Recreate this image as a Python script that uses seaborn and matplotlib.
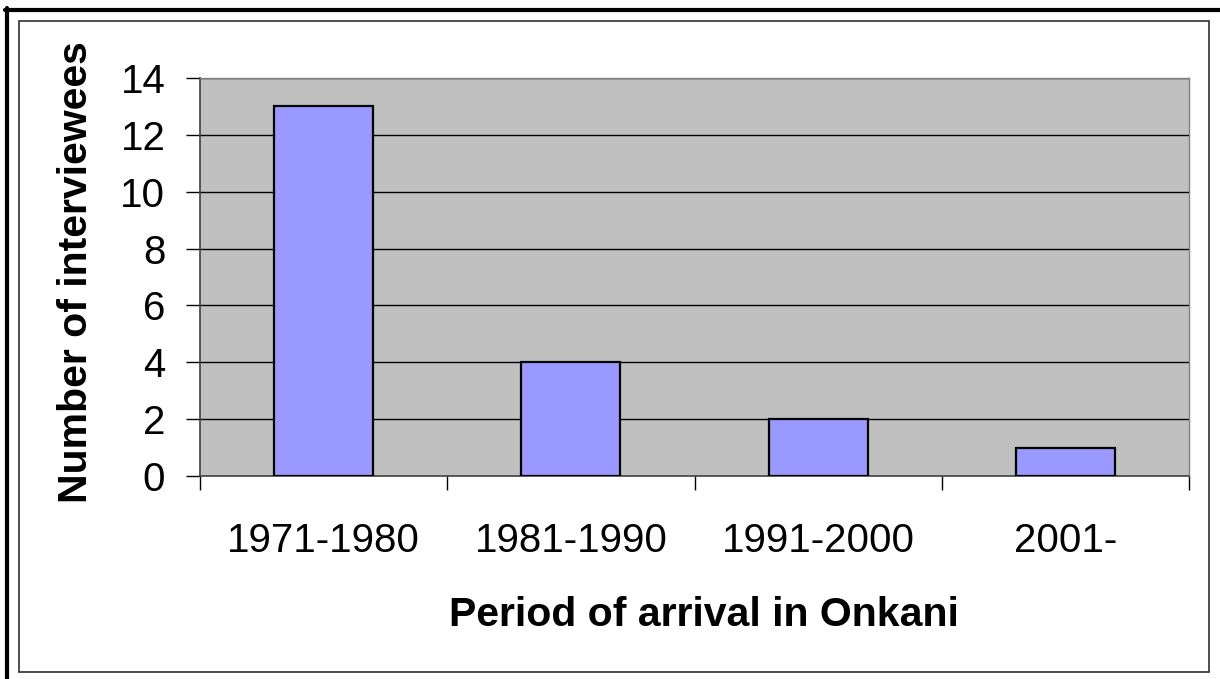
import matplotlib.pyplot as plt
import seaborn as sns
import pandas as pd
from matplotlib.lines import Line2D
from matplotlib.patches import Rectangle
from matplotlib.ticker import FixedLocator, NullFormatter

periods = ["1971-1980", "1981-1990", "1991-2000", "2001-"]
interviewees = [13, 4, 2, 1]
y_ticks = [0, 2, 4, 6, 8, 10, 12, 14]

sns.set_style("white")
plt.rcParams["font.family"] = ["Liberation Sans", "DejaVu Sans"]
plt.rcParams["text.color"] = "black"
plt.rcParams["axes.labelcolor"] = "black"
plt.rcParams["xtick.color"] = "black"
plt.rcParams["ytick.color"] = "black"

W, H = 1220, 679
fig = plt.figure(figsize=(W / 100, H / 100), dpi=100)

# plot area in pixels: x 200..1189, y 78..476
ax = fig.add_axes([200 / W, (H - 476) / H, 989 / W, 398 / H])
ax.set_facecolor("#C0C0C0")

df = pd.DataFrame({"period": periods, "count": interviewees})
sns.barplot(data=df, x="period", y="count", color="#9999FF", saturation=1,
            edgecolor="black", linewidth=1.6, width=0.4, ax=ax, zorder=3)

ax.set_xlim(-0.5, len(periods) - 0.5)
ax.set_ylim(0, 14)
ax.set_yticks(y_ticks)
ax.grid(False)
for t in y_ticks[1:]:
    ax.axhline(t, color="black", lw=1.0, zorder=1)

# category boundaries get the tick marks, labels sit in the middle
ax.xaxis.set_major_locator(FixedLocator([i - 0.5 for i in range(len(periods) + 1)]))
ax.xaxis.set_major_formatter(NullFormatter())
ax.xaxis.set_minor_locator(FixedLocator(range(len(periods))))
ax.set_xticklabels(periods, minor=True)
ax.tick_params(axis="x", which="major", direction="out", length=10, width=1,
               color="black", bottom=True)
ax.tick_params(axis="x", which="minor", length=0, labelsize=29, pad=33,
               labelcolor="black", bottom=True)
ax.tick_params(axis="y", direction="out", length=10, width=1, color="black",
               labelsize=29, pad=15, left=True, labelcolor="black")

for side in ["top", "right"]:
    ax.spines[side].set_color("#808080")
    ax.spines[side].set_linewidth(1.0)
for side in ["left", "bottom"]:
    ax.spines[side].set_color("#404040")
    ax.spines[side].set_linewidth(1.2)

ax.set_xlabel("Period of arrival in Onkani", fontsize=29.5, fontweight="bold", color="black")
ax.set_ylabel("Number of interviewees", fontsize=29.5, fontweight="bold", color="black")
ax.xaxis.set_label_coords(0.51, -0.302)
ax.yaxis.set_label_coords(-0.106, 0.513)

# chart frame and the heavy outer border along the top and left
fig.patches.append(Rectangle((19 / W, (H - 672) / H), 1190 / W, 651 / H,
                             transform=fig.transFigure, fill=False,
                             edgecolor="#303030", lw=1.2))
fig.lines.append(Line2D([7 / W, 7 / W], [0, (H - 8) / H], transform=fig.transFigure,
                        color="black", lw=3.0))
fig.lines.append(Line2D([5 / W, 1], [(H - 10) / H, (H - 10) / H], transform=fig.transFigure,
                        color="black", lw=3.0))

fig.savefig("out.png", dpi=100)
